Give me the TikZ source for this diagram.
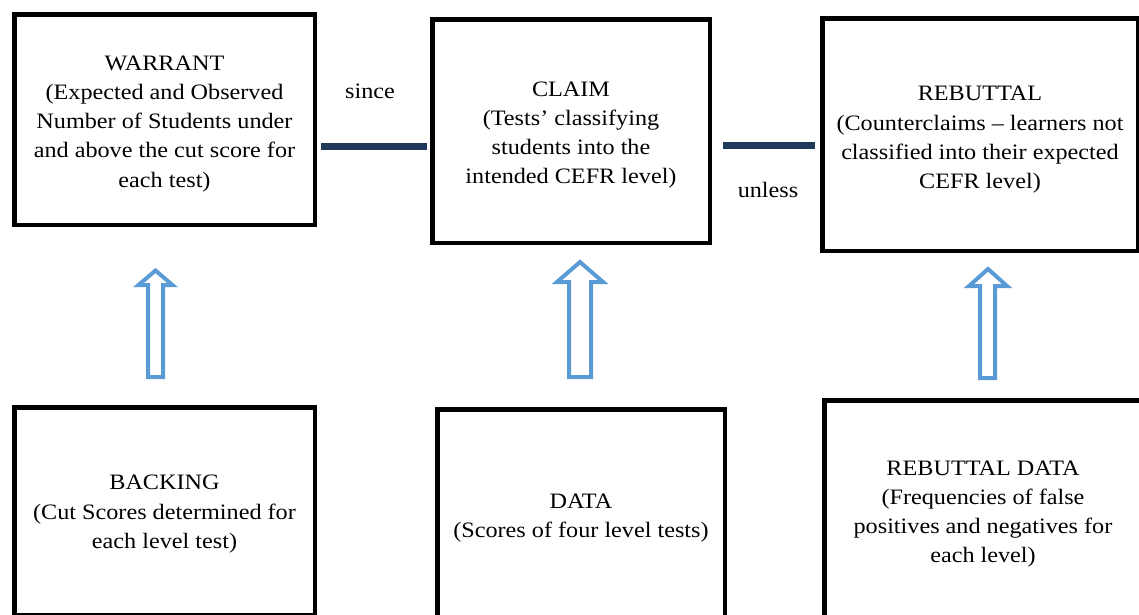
\documentclass[tikz,border=0pt]{standalone}
\usepackage{fontspec}
\setmainfont[FakeStretch=1.1]{Liberation Serif}
\definecolor{navy}{HTML}{1F3A5A}
\definecolor{arrowblue}{HTML}{5B9BD5}
\newcommand\topfix{\rule{0pt}{23pt}}
\begin{document}
\begin{tikzpicture}[x=1pt,y=-1pt,
  box/.style={draw=black, line width=4.5pt, fill=white, align=center, inner sep=0pt,
    font=\fontsize{22}{29.2}\selectfont},
  lbl/.style={font=\fontsize{22}{29.2}\selectfont, inner sep=0pt},
  conn/.style={draw=navy, line width=7pt},
  blockarr/.style={draw=arrowblue, line width=4pt, fill=white, line join=miter}]
\useasboundingbox (0,0) rectangle (1139,614);
\begin{scope}
\clip (0,0) rectangle (1139,614);
\node[box, minimum width=300.5pt, minimum height=210.5pt] (warrant) at (164.5,119.5)
  {\topfix WARRANT\\(Expected and Observed\\Number of Students under\\and above the cut score for\\each test)};
\node[box, minimum width=277.5pt, minimum height=223.5pt] (claim) at (571,131)
  {\topfix CLAIM\\(Tests' classifying\\students into the\\intended CEFR level)};
\node[box, minimum width=315.5pt, minimum height=232.5pt] (rebuttal) at (980,134.5)
  {\rule{0pt}{25pt}REBUTTAL\\(Counterclaims -- learners not\\classified into their expected\\CEFR level)};
\node[box, minimum width=300.5pt, minimum height=207.5pt] (backing) at (164.5,511)
  {\rule{0pt}{21pt}BACKING\\(Cut Scores determined for\\each level test)};
\node[box, minimum width=287.5pt, minimum height=211.5pt] (data) at (581,515)
  {\rule{0pt}{21pt}DATA\\(Scores of four level tests)};
\node[box, minimum width=317.5pt, minimum height=219.5pt] (rdata) at (983,510)
  {\topfix REBUTTAL DATA\\(Frequencies of false\\positives and negatives for\\each level)};
\end{scope}
\node[lbl] (since) at (370,91) {since};
\node[lbl] (unless) at (768,190) {unless};
\coordinate (sinceY) at (0,146);
\coordinate (unlessY) at (0,145);
\draw[conn, shorten <=4pt, shorten >=3pt] (warrant.east |- sinceY) -- (claim.west |- sinceY);
\draw[conn, shorten <=11pt, shorten >=5pt] (claim.east |- unlessY) -- (rebuttal.west |- unlessY);
% block arrows
\draw[blockarr] (148,377) -- (148,285) -- (138.5,285) -- (155.5,270.5) -- (172.5,285) -- (163,285) -- (163,377) -- cycle;
\draw[blockarr] (569,377) -- (569,282) -- (557,282) -- (580,262) -- (603,282) -- (591,282) -- (591,377) -- cycle;
\draw[blockarr] (980,378) -- (980,286) -- (969,286) -- (988,269) -- (1007,286) -- (995,286) -- (995,378) -- cycle;
\end{tikzpicture}
\end{document}
